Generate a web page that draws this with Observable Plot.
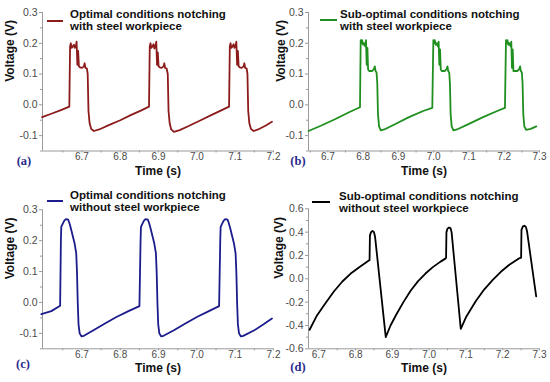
<!DOCTYPE html>
<html><head><meta charset="utf-8">
<script src="https://cdn.jsdelivr.net/npm/d3@7"></script>
<script src="https://cdn.jsdelivr.net/npm/@observablehq/plot@0.6"></script>
<style>
body{margin:0;background:#fff;}
#wrap{position:relative;width:550px;height:382px;overflow:hidden;font-family:"Liberation Sans",Arial,sans-serif;background:#fff;}
#wrap svg{position:absolute;overflow:visible;background:transparent;}
.leg{position:absolute;font-weight:bold;font-size:11.5px;line-height:12.3px;color:#111;white-space:nowrap;}
.legline{position:absolute;height:2px;}
.tag{position:absolute;font-family:"Liberation Serif","Times New Roman",serif;font-weight:bold;font-size:12.5px;color:#2a2a8c;transform:translate(-50%,-50%);}
</style></head><body><div id="wrap"></div>
<script>
// ---- data ----
const timeA = [6.596,6.62,6.645,6.667,6.669,6.671,6.673,6.676,6.679,6.681,6.684,6.686,6.688,6.690,6.692,6.695,6.700,6.705,6.707,6.709,6.713,6.715,6.717,6.720,6.724,6.731,6.745,6.77,6.80,6.83,6.855,6.875,
  6.877,6.879,6.881,6.884,6.887,6.889,6.892,6.894,6.896,6.898,6.900,6.903,6.908,6.913,6.915,6.917,6.921,6.924,6.926,6.929,6.933,6.940,6.955,6.98,7.01,7.04,7.065,7.084,
  7.086,7.088,7.090,7.093,7.096,7.098,7.101,7.103,7.105,7.107,7.109,7.112,7.117,7.122,7.124,7.126,7.130,7.132,7.134,7.137,7.141,7.148,7.16,7.18,7.196];
const voltA = [-0.040,-0.029,-0.017,-0.006,0.19,0.20,0.185,0.19,0.195,0.185,0.19,0.205,0.13,0.175,0.125,0.122,0.12,0.125,0.135,0.12,0.118,0.10,-0.02,-0.06,-0.078,-0.085,-0.080,-0.066,-0.050,-0.032,-0.018,-0.006,
  0.19,0.20,0.185,0.19,0.197,0.183,0.19,0.205,0.13,0.17,0.125,0.122,0.12,0.125,0.135,0.12,0.118,0.10,-0.02,-0.06,-0.08,-0.088,-0.082,-0.068,-0.050,-0.032,-0.017,-0.006,
  0.19,0.20,0.185,0.19,0.197,0.185,0.19,0.205,0.13,0.175,0.125,0.122,0.12,0.125,0.135,0.12,0.118,0.10,-0.02,-0.06,-0.078,-0.085,-0.080,-0.067,-0.055];

const timeB = [6.645,6.68,6.72,6.76,6.791,6.793,6.795,6.797,6.800,6.803,6.806,6.808,6.810,6.812,6.814,6.817,6.825,6.830,6.833,6.835,6.838,6.840,6.842,6.845,6.850,6.86,6.89,6.93,6.97,6.996,
  6.999,7.001,7.003,7.006,7.009,7.012,7.014,7.016,7.018,7.020,7.023,7.031,7.036,7.039,7.041,7.044,7.046,7.048,7.051,7.056,7.066,7.10,7.14,7.18,7.202,
  7.205,7.207,7.209,7.212,7.215,7.218,7.220,7.222,7.224,7.226,7.229,7.237,7.242,7.245,7.247,7.250,7.252,7.254,7.257,7.262,7.275,7.291];
const voltB = [-0.085,-0.068,-0.047,-0.024,-0.008,0.21,0.20,0.21,0.195,0.20,0.19,0.21,0.13,0.185,0.115,0.11,0.11,0.115,0.125,0.11,0.105,0.07,-0.03,-0.07,-0.083,-0.080,-0.063,-0.040,-0.020,-0.010,
  0.21,0.20,0.21,0.195,0.20,0.19,0.205,0.13,0.18,0.115,0.11,0.11,0.115,0.125,0.11,0.105,0.07,-0.03,-0.07,-0.083,-0.080,-0.062,-0.040,-0.020,-0.010,
  0.21,0.20,0.21,0.195,0.20,0.19,0.205,0.12,0.18,0.11,0.11,0.11,0.115,0.125,0.11,0.105,0.07,-0.03,-0.07,-0.081,-0.078,-0.070];

const timeC = [6.594,6.62,6.641,6.643,6.645,6.646,6.650,6.654,6.658,6.664,6.667,6.671,6.676,6.681,6.685,6.687,6.689,6.691,6.694,6.699,6.705,6.73,6.76,6.79,6.82,6.850,
  6.853,6.854,6.858,6.862,6.866,6.872,6.875,6.879,6.884,6.889,6.893,6.895,6.897,6.899,6.902,6.907,6.913,6.94,6.97,7.00,7.03,7.058,
  7.061,7.062,7.066,7.070,7.074,7.080,7.083,7.087,7.092,7.097,7.101,7.103,7.105,7.107,7.110,7.115,7.121,7.15,7.175,7.196];
const voltC = [-0.038,-0.028,-0.012,-0.011,0.20,0.245,0.255,0.265,0.27,0.268,0.258,0.24,0.215,0.19,0.16,0.10,0.0,-0.07,-0.10,-0.11,-0.108,-0.090,-0.068,-0.047,-0.029,-0.012,
  0.20,0.245,0.255,0.265,0.27,0.268,0.258,0.24,0.215,0.19,0.16,0.10,0.0,-0.07,-0.10,-0.11,-0.108,-0.090,-0.068,-0.047,-0.029,-0.012,
  0.20,0.245,0.255,0.265,0.27,0.268,0.258,0.24,0.215,0.19,0.16,0.10,0.0,-0.07,-0.10,-0.11,-0.108,-0.090,-0.070,-0.052];

const timeD = [6.675,6.695,6.718,6.741,6.764,6.786,6.809,6.836,6.838,6.839,6.842,6.846,6.850,6.853,6.882,
  6.895,6.91,6.93,6.95,6.97,6.99,7.01,7.03,7.045,7.046,7.047,7.050,7.054,7.058,7.061,7.086,
  7.10,7.127,7.15,7.173,7.195,7.218,7.245,7.250,7.251,7.255,7.259,7.263,7.266,7.291];
const voltD = [-0.437,-0.314,-0.209,-0.109,-0.023,0.043,0.097,0.157,0.16,0.37,0.40,0.41,0.40,0.36,-0.50,
  -0.40,-0.31,-0.20,-0.10,-0.02,0.045,0.10,0.145,0.175,0.18,0.40,0.43,0.44,0.435,0.40,-0.43,
  -0.33,-0.19,-0.09,-0.01,0.06,0.12,0.177,0.18,0.42,0.45,0.455,0.445,0.41,-0.15];

const xTicks6 = [6.7,6.8,6.9,7.0,7.1,7.2];
const xMinor6 = [6.65,6.75,6.85,6.95,7.05,7.15];
const xTicks7 = [6.7,6.8,6.9,7.0,7.1,7.2,7.3];
const xMinor7 = [6.65,6.75,6.85,6.95,7.05,7.15,7.25];
const xMinor7d = [6.75,6.85,6.95,7.05,7.15,7.25];
const yTicksSmall = [-0.1,0.0,0.1,0.2,0.3];
const yMinorSmall = [-0.15,-0.05,0.05,0.15,0.25];
const yTicksLarge = [-0.6,-0.4,-0.2,0.0,0.2,0.4,0.6];
const yMinorLarge = [-0.5,-0.3,-0.1,0.1,0.3,0.5];

const legendTexts = [
  ["Optimal conditions notching","with steel workpiece"],
  ["Sub-optimal conditions notching","with steel workpiece"],
  ["Optimal conditions notching","without steel workpiece"],
  ["Sub-optimal conditions notching","without steel workpiece"]
];
const tags = ["(a)","(b)","(c)","(d)"];
const colors = ["#8c1c1c","#1f8f1f","#1c1c8c","#000000"];

// ---- layout ----
const wrap = document.getElementById("wrap");
const axisGray = "#9a9a9a";
const labelGray = "#4a4a4a";

function panel(p) {
  const rows = p.times.map((t, i) => ({t, v: p.volts[i]}));
  const chart = Plot.plot({
    width: 275, height: 191,
    marginLeft: p.mL, marginRight: p.mR, marginTop: p.mT, marginBottom: p.mB,
    style: {background: "transparent", overflow: "visible", fontFamily: "Liberation Sans, Arial, sans-serif"},
    x: {domain: p.xDomain, label: null},
    y: {domain: p.yDomain, label: null},
    marks: [
      Plot.ruleX([p.xDomain[0]], {stroke: axisGray, strokeWidth: 1}),
      Plot.ruleY([p.yDomain[0]], {stroke: axisGray, strokeWidth: 1}),
      Plot.axisX({ticks: p.xTicks, tickSize: 2, tickPadding: 0, tickFormat: d => d.toFixed(1), fontSize: 10, fill: labelGray, stroke: axisGray, label: null}),
      Plot.axisX({ticks: p.xMinor, tickSize: 2, tickFormat: () => "", stroke: axisGray, label: null}),
      Plot.axisY({ticks: p.yTicks, tickSize: 3, tickPadding: 2, tickFormat: d => d.toFixed(1), fontSize: 10.5, fill: labelGray, stroke: axisGray, label: null}),
      Plot.axisY({ticks: p.yMinor, tickSize: 2, tickFormat: () => "", stroke: axisGray, label: null}),
      Plot.line(rows, {x: "t", y: "v", stroke: p.color, strokeWidth: 1.8, curve: "linear"}),
      Plot.text(["Time (s)"], {frameAnchor: "bottom", dy: 23.5, fontWeight: "bold", fontSize: 12, fill: "#111"}),
      Plot.text(["Voltage (V)"], {frameAnchor: "left", dx: p.ytDx, rotate: -90, fontWeight: "bold", fontSize: 12, fill: "#111"})
    ]
  });
  chart.style.left = p.left + "px";
  chart.style.top = p.top + "px";
  wrap.appendChild(chart);

  const ln = document.createElement("div");
  ln.className = "legline";
  ln.style.left = p.legLine[0] + "px";
  ln.style.width = p.legLine[1] + "px";
  ln.style.top = (p.legLine[2] - 1) + "px";
  ln.style.background = p.color;
  wrap.appendChild(ln);

  const lg = document.createElement("div");
  lg.className = "leg";
  lg.style.left = p.legText[0] + "px";
  lg.style.top = p.legText[1] + "px";
  lg.innerHTML = p.legend.join("<br>");
  wrap.appendChild(lg);

  const tg = document.createElement("div");
  tg.className = "tag";
  tg.style.left = p.tagPos[0] + "px";
  tg.style.top = p.tagPos[1] + "px";
  tg.textContent = p.tag;
  wrap.appendChild(tg);
}

panel({left: 0, top: 0, mL: 42, mR: 2, mT: 12, mB: 40.5, xDomain: [6.597, 7.2], yDomain: [-0.15, 0.3],
  xTicks: xTicks6, xMinor: xMinor6, yTicks: yTicksSmall, yMinor: yMinorSmall, times: timeA, volts: voltA,
  color: colors[0], legend: legendTexts[0], tag: tags[0], ytDx: -32,
  legLine: [47, 16, 20.5], legText: [70, 8], tagPos: [24, 161]});
panel({left: 275, top: 0, mL: 33, mR: 11, mT: 12, mB: 40.5, xDomain: [6.645, 7.3], yDomain: [-0.15, 0.3],
  xTicks: xTicks7, xMinor: xMinor7, yTicks: yTicksSmall, yMinor: yMinorSmall, times: timeB, volts: voltB,
  color: colors[1], legend: legendTexts[1], tag: tags[1], ytDx: -27,
  legLine: [320, 17, 19.5], legText: [340, 8], tagPos: [298, 161]});
panel({left: 0, top: 191, mL: 42, mR: 2, mT: 18.3, mB: 33.7, xDomain: [6.597, 7.2], yDomain: [-0.15, 0.3],
  xTicks: xTicks6, xMinor: xMinor6, yTicks: yTicksSmall, yMinor: yMinorSmall, times: timeC, volts: voltC,
  color: colors[2], legend: legendTexts[2], tag: tags[2], ytDx: -32,
  legLine: [47, 16, 201], legText: [70, 189], tagPos: [23, 364]});
panel({left: 275, top: 191, mL: 33, mR: 11, mT: 17.3, mB: 33.7, xDomain: [6.672, 7.3], yDomain: [-0.6, 0.6],
  xTicks: xTicks7, xMinor: xMinor7d, yTicks: yTicksLarge, yMinor: yMinorLarge, times: timeD, volts: voltD,
  color: colors[3], legend: legendTexts[3], tag: tags[3], ytDx: -29,
  legLine: [312, 18, 201.5], legText: [339, 189.5], tagPos: [298, 367]});
</script></body></html>
